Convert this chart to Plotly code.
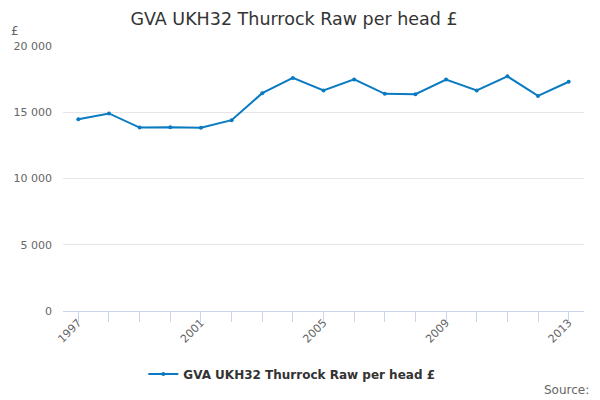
import plotly.graph_objects as go

years = [str(y) for y in range(1997, 2014)]
values = [14470, 14910, 13840, 13870, 13830, 14400, 16440, 17590, 16650,
          17480, 16390, 16360, 17470, 16640, 17710, 16230, 17300]
tick_years = ["1997", "2001", "2005", "2009", "2013"]
y_ticks = [0, 5000, 10000, 15000, 20000]
y_labels = ["0", "5 000", "10 000", "15 000", "20 000"]
series_name = "GVA UKH32 Thurrock Raw per head £"
title = "GVA UKH32 Thurrock Raw per head £"

FONT = "DejaVu Sans"
LINE = "#0a7bc2"

# page body has an 8px margin, so the figure is drawn 8px in from the corner
W, H = 592, 392
L, R, T, B = 55, 16, 38, 89
PW, PH = W - L - R, H - T - B

fig = go.Figure()
fig.add_trace(go.Scatter(
    x=years, y=values, mode="lines+markers", name=series_name,
    line=dict(color=LINE, width=2),
    marker=dict(color=LINE, size=4),
))

fig.update_layout(
    width=W, height=H,
    paper_bgcolor="white", plot_bgcolor="white",
    margin=dict(l=L, r=R, t=T, b=B, autoexpand=False),
    font=dict(family=FONT, color="#666666", size=11),
    title=dict(text=title, x=286 / W, xanchor="center", y=1 - 10.5 / H,
               yref="container", yanchor="middle",
               font=dict(family=FONT, size=17.5, color="#333333")),
    showlegend=True,
    legend=dict(orientation="h", x=260 / W, xanchor="center", y=1 - 366 / H,
                yref="container", yanchor="middle", itemwidth=30,
                font=dict(family=FONT, size=12, color="#333333", weight="bold")),
    xaxis=dict(
        type="category", range=[-0.5, 16.5], automargin=False,
        tickmode="array", tickvals=tick_years, ticktext=tick_years,
        tickangle=-45, showgrid=False,
        showline=True, linecolor="#ccd6eb", linewidth=1,
        ticks="", tickfont=dict(size=11, color="#666666"),
        fixedrange=True,
    ),
    yaxis=dict(
        range=[0, 20000], tickmode="array", tickvals=y_ticks, ticktext=y_labels,
        showgrid=True, gridcolor="#e6e6e6", gridwidth=1, automargin=False,
        zeroline=False, showline=False, ticks="",
        tickfont=dict(size=11, color="#666666"), ticklabelstandoff=10,
    ),
)

# tick marks at every category, drawn via a secondary overlay axis
fig.update_layout(xaxis2=dict(
    type="category", range=[-0.5, 16.5], overlaying="x", anchor="y",
    side="bottom", tickmode="array", tickvals=years, ticktext=[""] * len(years),
    ticks="outside", ticklen=10, tickcolor="#ccd6eb", tickwidth=1,
    showgrid=False, showline=False, fixedrange=True, automargin=False,
))
fig.add_trace(go.Scatter(x=years, y=values, xaxis="x2", mode="lines",
                         line=dict(width=0), hoverinfo="skip", showlegend=False,
                         opacity=0))

fig.add_annotation(text="£", xref="paper", yref="paper", x=(1 - L) / PW,
                   y=(PH + T - 23.5) / PH, xanchor="left", yanchor="middle",
                   showarrow=False,
                   font=dict(family=FONT, size=12, color="#666666"))
fig.add_annotation(text="Source:", xref="paper", yref="paper",
                   x=(583 - L) / PW, y=(PH + T - 382) / PH,
                   xanchor="right", yanchor="middle", showarrow=False,
                   font=dict(family=FONT, size=12, color="#666666"))

fig.write_html("out.html")
